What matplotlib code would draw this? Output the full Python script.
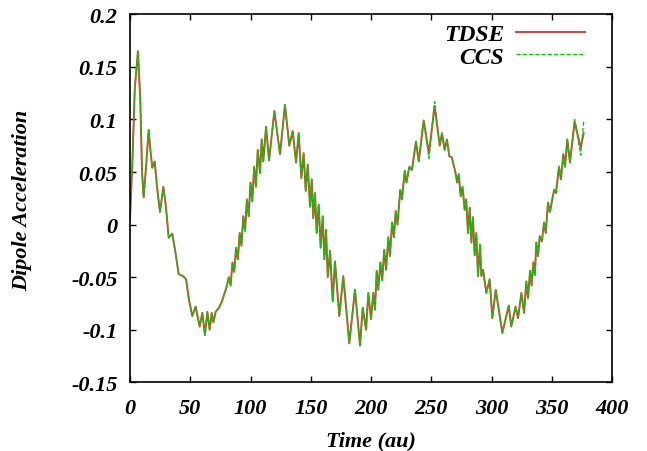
import matplotlib
matplotlib.use("Agg")
from matplotlib import pyplot as plt

# time axis (au) and TDSE dipole acceleration
time = [0, 2, 4, 6.6, 8.5, 10, 11.3, 13, 15.5, 17, 18.5, 20.5, 22.5, 24.9, 27.7,
        30, 32.1, 35.1, 37.5, 40.4, 44, 46.5, 49, 51.7, 54.5, 57.8, 60, 62.2, 64.2,
        66.1, 67.8, 69.2, 71.1, 73.9, 76, 78, 80, 82, 83.5, 85, 86.5, 88, 89.5,
        91, 92.5, 94, 95.5, 97, 98.5, 100, 101.5, 103, 104.5, 106, 107.9, 109.3,
        110.6, 112.9, 115.4, 119.8, 124.5, 128.6, 132.2, 135, 137.8, 140, 142.2,
        144.1, 145.8, 147.5, 149.4, 150.8, 152.1, 153.5, 154.9, 156.6, 158.2,
        159.9, 161.3, 162.7, 164.1, 166, 168.2, 170.1, 173.7, 177, 182, 186.7,
        190.9, 193.1, 195.9, 197.8, 200, 201.9, 203.3, 204.7, 206, 207.8, 209.3,
        211, 212.5, 214.4, 215.7, 217.5, 219, 220.5, 222, 224.3, 225.7, 228,
        229.4, 231.8, 234, 237.3, 239.6, 243.7, 248.1, 252.8, 257, 258.9, 261.1,
        263, 265, 267, 270, 271.5, 272.8, 274.4, 276, 277.7, 279, 280.5, 281.9,
        283.3, 284.6, 286, 287.4, 288.8, 290.5, 291.6, 293, 295.7, 298.5, 300.7,
        303.5, 309, 314.3, 316.4, 320, 322, 324.8, 327, 328.9, 330.3, 332, 333.3,
        334.7, 336, 337.2, 338.6, 340, 341.8, 343.6, 345, 346.9, 348.5, 351.9,
        353.5, 356, 357.6, 359.6, 361, 362.9, 365.1, 369, 374, 376.5]

tdse = [0.005, 0.06, 0.13, 0.165, 0.12, 0.05, 0.026, 0.05, 0.090, 0.07, 0.054,
        0.060, 0.035, 0.012, 0.036, 0.015, -0.0125, -0.0086, -0.025, -0.047,
        -0.049, -0.052, -0.072, -0.087, -0.078, -0.097, -0.084, -0.105, -0.083,
        -0.100, -0.084, -0.093, -0.083, -0.079, -0.074, -0.067, -0.060, -0.050,
        -0.058, -0.036, -0.045, -0.022, -0.033, -0.008, -0.020, 0.008, -0.006,
        0.024, 0.008, 0.040, 0.022, 0.055, 0.036, 0.071, 0.049, 0.081, 0.060,
        0.093, 0.061, 0.108, 0.067, 0.114, 0.075, 0.089, 0.059, 0.087, 0.044,
        0.068, 0.032, 0.057, 0.017, 0.043, 0.006, 0.030, -0.008, 0.019, -0.022,
        0.008, -0.033, -0.005, -0.050, -0.025, -0.073, -0.035, -0.087, -0.049,
        -0.113, -0.062, -0.115, -0.079, -0.100, -0.065, -0.090, -0.065, -0.081,
        -0.044, -0.062, -0.036, -0.053, -0.024, -0.043, -0.012, -0.030, 0.002,
        -0.012, 0.013, 0.000, 0.033, 0.024, 0.051, 0.040, 0.055, 0.052, 0.079,
        0.060, 0.099, 0.068, 0.113, 0.075, 0.087, 0.071, 0.081, 0.065, 0.064,
        0.050, 0.040, 0.048, 0.027, 0.036, 0.014, 0.024, -0.008, 0.016, -0.017,
        0.007, -0.029, -0.008, -0.049, -0.019, -0.049, -0.043, -0.065, -0.052,
        -0.089, -0.062, -0.103, -0.077, -0.097, -0.078, -0.089, -0.065, -0.084,
        -0.054, -0.070, -0.044, -0.058, -0.036, -0.048, -0.017, -0.030, -0.011,
        -0.016, 0.002, -0.008, 0.021, 0.012, 0.033, 0.030, 0.055, 0.043, 0.067,
        0.055, 0.081, 0.059, 0.098, 0.073, 0.087]

# CCS follows TDSE except at these points
ccs_changes = {248.1: 0.063, 252.8: 0.117, 369: 0.100, 374: 0.066, 376.5: 0.098}
ccs = [ccs_changes.get(t, v) for t, v in zip(time, tdse)]

x_ticks = [0, 50, 100, 150, 200, 250, 300, 350, 400]
y_ticks = [-0.15, -0.1, -0.05, 0, 0.05, 0.1, 0.15, 0.2]
y_tick_labels = ["-0.15", "-0.1", "-0.05", "0", "0.05", "0.1", "0.15", "0.2"]

plt.rcParams['font.family'] = ['Liberation Serif', 'DejaVu Serif']
plt.rcParams['font.weight'] = 'bold'
plt.rcParams['font.style'] = 'italic'

fig = plt.figure(figsize=(6.47, 4.52), dpi=100)
ax = fig.add_axes([130 / 647, 1 - 383.3 / 452, (612 - 130) / 647, (383.3 - 15.3) / 452])

ax.plot(time, tdse, color='#e03a3a', lw=1.4, label='TDSE')
ax.plot(time, ccs, color='#00d000', lw=1.0, dashes=(3, 1.5), label='CCS')

ax.set_xlim(0, 400)
ax.set_ylim(-0.15, 0.2)
ax.set_xticks(x_ticks)
ax.set_xticklabels([str(t) for t in x_ticks])
ax.set_yticks(y_ticks)
ax.set_yticklabels(y_tick_labels)
ax.tick_params(direction='in', length=4, width=1, top=True, right=True,
               labelsize=16)
ax.tick_params(axis='x', pad=11)
ax.tick_params(axis='y', pad=9)
for s in ax.spines.values():
    s.set_linewidth(1.2)

fig.text(371 / 647, 1 - 441 / 452, "Time (au)", ha='center', va='center',
         fontsize=16, fontweight='bold', style='italic')
fig.text(22 / 647, 1 - 200 / 452, "Dipole Acceleration", ha='center', va='center',
         rotation=90, fontsize=16, fontweight='bold', style='italic')

leg = ax.legend(loc='upper right', bbox_to_anchor=(594 / 647, 1 - 15 / 452),
                bbox_transform=fig.transFigure, frameon=False, markerfirst=False,
                fontsize=17, handlelength=2.9, handletextpad=0.5, labelspacing=0.05,
                borderaxespad=0)

plt.savefig("out.png", dpi=100)
